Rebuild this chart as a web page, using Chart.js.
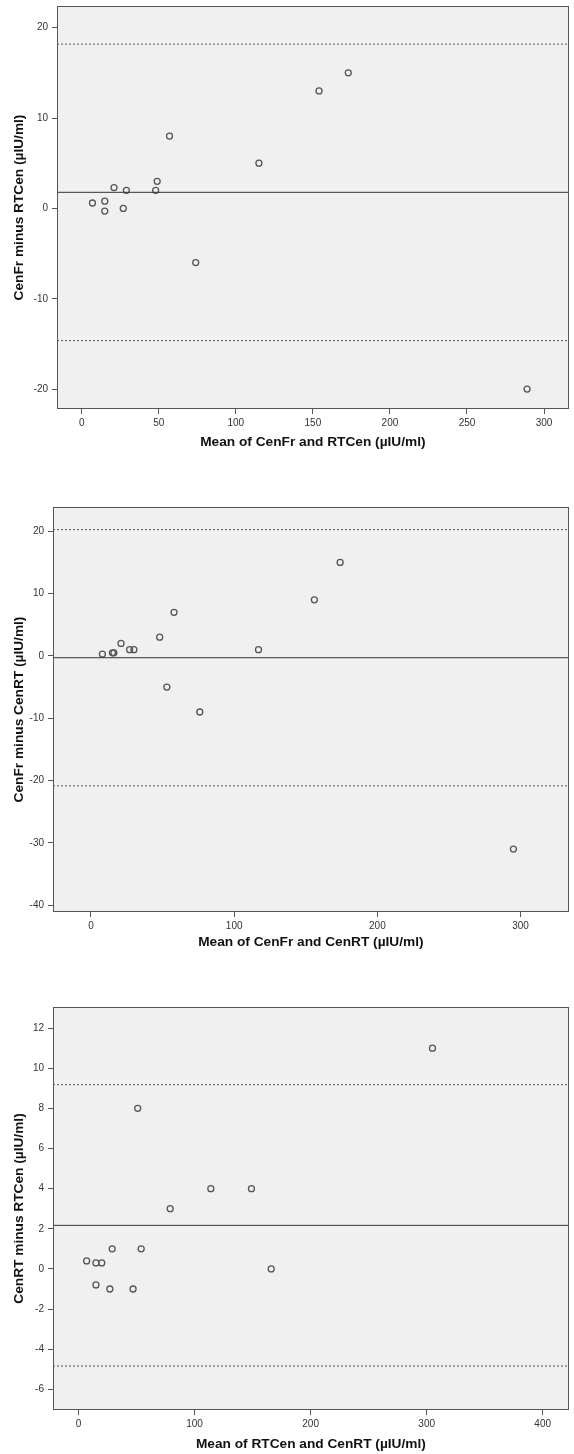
<!DOCTYPE html>
<html>
<head>
<meta charset="utf-8">
<script src="https://cdn.jsdelivr.net/npm/chart.js@4/dist/chart.umd.min.js"></script>
<style>
  html, body { margin: 0; padding: 0; background: #ffffff; }
  body { width: 574px; height: 1454px; position: relative; overflow: hidden; }
  .wrap { position: absolute; left: 0; width: 574px; }
  canvas { display: block; }
</style>
</head>
<body>
<div class="wrap" id="w1" style="top:0px;height:455px;"><canvas id="c1" width="574" height="455"></canvas></div>
<div class="wrap" id="w2" style="top:460px;height:495px;"><canvas id="c2" width="574" height="495"></canvas></div>
<div class="wrap" id="w3" style="top:955px;height:499px;"><canvas id="c3" width="574" height="499"></canvas></div>
<script>
// ---------- Panel 1: CenFr vs RTCen ----------
const p1Mean = [7, 15, 15, 21, 27, 29, 48, 49, 57, 74, 115, 154, 173, 289];
const p1Diff = [0.6, 0.8, -0.3, 2.3, 0, 2, 2, 3, 8, -6, 5, 13, 15, -20];
const p1Bias = 1.78;
const p1Upper = 18.18;
const p1Lower = -14.63;
const p1XTicks = [0, 50, 100, 150, 200, 250, 300];
const p1YTicks = [-20, -10, 0, 10, 20];
const p1XRange = [-16, 316];
const p1YRange = [-22.2, 22.4];
const p1XTitle = 'Mean of CenFr and RTCen (µIU/ml)';
const p1YTitle = 'CenFr minus RTCen (µIU/ml)';

// ---------- Panel 2: CenFr vs CenRT ----------
const p2Mean = [8, 15, 16, 21, 27, 30, 48, 53, 58, 76, 117, 156, 174, 295];
const p2Diff = [0.3, 0.5, 0.5, 2, 1, 1, 3, -5, 7, -9, 1, 9, 15, -31];
const p2Bias = -0.29;
const p2Upper = 20.27;
const p2Lower = -20.85;
const p2XTicks = [0, 100, 200, 300];
const p2YTicks = [-40, -30, -20, -10, 0, 10, 20];
const p2XRange = [-26.5, 333.6];
const p2YRange = [-41.1, 23.9];
const p2XTitle = 'Mean of CenFr and CenRT (µIU/ml)';
const p2YTitle = 'CenFr minus CenRT (µIU/ml)';

// ---------- Panel 3: CenRT vs RTCen ----------
const p3Mean = [7, 15, 15, 20, 27, 29, 47, 51, 54, 79, 114, 149, 166, 305];
const p3Diff = [0.4, 0.3, -0.8, 0.3, -1, 1, -1, 8, 1, 3, 4, 4, 0, 11];
const p3Bias = 2.17;
const p3Upper = 9.18;
const p3Lower = -4.84;
const p3XTicks = [0, 100, 200, 300, 400];
const p3YTicks = [-6, -4, -2, 0, 2, 4, 6, 8, 10, 12];
const p3XRange = [-22, 422.4];
const p3YRange = [-7.03, 13.05];
const p3XTitle = 'Mean of RTCen and CenRT (µIU/ml)';
const p3YTitle = 'CenRT minus RTCen (µIU/ml)';

const FONT = "'Liberation Sans', Arial, sans-serif";
const AXIS_COLOR = '#555555';

const framePlugin = {
  id: 'frame',
  beforeDraw(chart) {
    const a = chart.chartArea, ctx = chart.ctx;
    ctx.save();
    ctx.fillStyle = '#f0f0f0';
    ctx.fillRect(a.left, a.top, a.right - a.left, a.bottom - a.top);
    ctx.restore();
  },
  afterDraw(chart) {
    const a = chart.chartArea, ctx = chart.ctx;
    ctx.save();
    ctx.strokeStyle = AXIS_COLOR;
    ctx.lineWidth = 1;
    ctx.strokeRect(Math.round(a.left) + 0.5, Math.round(a.top) + 0.5,
                   Math.round(a.right - a.left) - 1, Math.round(a.bottom - a.top) - 1);
    ctx.restore();
  }
};

function makeChart(id, cfg) {
  const pts = cfg.mean.map((m, i) => ({ x: m, y: cfg.diff[i] }));
  const hline = (v) => [{ x: cfg.xRange[0], y: v }, { x: cfg.xRange[1], y: v }];
  return new Chart(document.getElementById(id), {
    type: 'scatter',
    data: {
      datasets: [
        { type: 'line', data: hline(cfg.upper), borderColor: '#555', borderWidth: 1, borderDash: [2, 2], pointRadius: 0, fill: false },
        { type: 'line', data: hline(cfg.lower), borderColor: '#555', borderWidth: 1, borderDash: [2, 2], pointRadius: 0, fill: false },
        { type: 'line', data: hline(cfg.bias), borderColor: '#333', borderWidth: 1, pointRadius: 0, fill: false },
        { data: pts, pointRadius: 3, pointBorderWidth: 1.3, pointBorderColor: '#555', pointBackgroundColor: 'rgba(0,0,0,0)', borderColor: '#555', backgroundColor: 'rgba(0,0,0,0)' }
      ]
    },
    options: {
      responsive: false,
      animation: false,
      events: [],
      layout: { padding: { top: cfg.padTop, right: 5, left: 0, bottom: 0 } },
      plugins: { legend: { display: false }, tooltip: { enabled: false } },
      scales: {
        x: {
          type: 'linear', position: 'bottom',
          min: cfg.xRange[0], max: cfg.xRange[1],
          afterBuildTicks: (s) => { s.ticks = cfg.xTicks.map(v => ({ value: v })); },
          afterFit: (s) => { s.height = cfg.xAxisH; s.paddingLeft = 0; s.paddingRight = 0; },
          grid: { drawOnChartArea: false, drawTicks: true, tickLength: 5, color: AXIS_COLOR, tickColor: AXIS_COLOR },
          border: { display: false },
          ticks: { color: '#333', font: { family: FONT, size: 10 }, padding: 3, maxRotation: 0, autoSkip: false },
          title: { display: true, text: cfg.xTitle, color: '#111', font: { family: FONT, size: 13.7, weight: 'bold' }, padding: { top: 0, bottom: cfg.xTitlePad } }
        },
        y: {
          type: 'linear', position: 'left',
          min: cfg.yRange[0], max: cfg.yRange[1],
          afterBuildTicks: (s) => { s.ticks = cfg.yTicks.map(v => ({ value: v })); },
          afterFit: (s) => { s.width = cfg.yAxisW; s.paddingTop = 0; s.paddingBottom = 0; },
          grid: { drawOnChartArea: false, drawTicks: true, tickLength: 5, color: AXIS_COLOR, tickColor: AXIS_COLOR },
          border: { display: false },
          ticks: { color: '#333', font: { family: FONT, size: 10 }, padding: 4, autoSkip: false },
          title: { display: true, text: cfg.yTitle, color: '#111', font: { family: FONT, size: 13.7, weight: 'bold' }, padding: { top: 10.8, bottom: 0 } }
        }
      }
    },
    plugins: [framePlugin]
  });
}

makeChart('c1', { mean: p1Mean, diff: p1Diff, bias: p1Bias, upper: p1Upper, lower: p1Lower,
  xTicks: p1XTicks, yTicks: p1YTicks, xRange: p1XRange, yRange: p1YRange, xTitle: p1XTitle, yTitle: p1YTitle,
  padTop: 6, xAxisH: 46, yAxisW: 57, xTitlePad: 4.8 });
makeChart('c2', { mean: p2Mean, diff: p2Diff, bias: p2Bias, upper: p2Upper, lower: p2Lower,
  xTicks: p2XTicks, yTicks: p2YTicks, xRange: p2XRange, yRange: p2YRange, xTitle: p2XTitle, yTitle: p2YTitle,
  padTop: 47, xAxisH: 43, yAxisW: 53, xTitlePad: 4.8 });
makeChart('c3', { mean: p3Mean, diff: p3Diff, bias: p3Bias, upper: p3Upper, lower: p3Lower,
  xTicks: p3XTicks, yTicks: p3YTicks, xRange: p3XRange, yRange: p3YRange, xTitle: p3XTitle, yTitle: p3YTitle,
  padTop: 52, xAxisH: 44, yAxisW: 53, xTitlePad: 1.8 });
</script>
</body>
</html>
